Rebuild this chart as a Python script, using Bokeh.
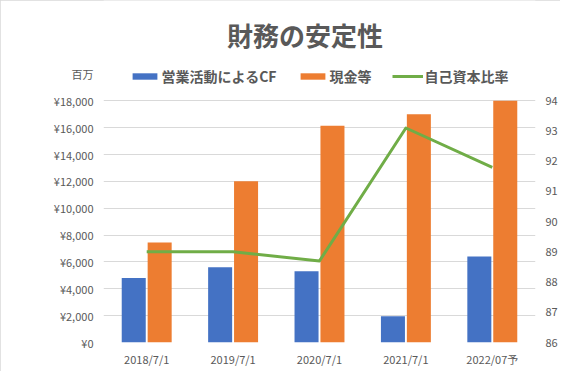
from bokeh.plotting import figure
from bokeh.models import (ColumnDataSource, Range1d, LinearAxis, FixedTicker,
                          Legend, LegendItem, Label, FactorRange)
from bokeh.transform import dodge
from bokeh.embed import file_html
from bokeh.resources import INLINE

# ---- data ----
categories = ["2018/7/1", "2019/7/1", "2020/7/1", "2021/7/1", "2022/07予"]
cf_values = [4800, 5600, 5300, 1950, 6400]          # 営業活動によるCF
cash_values = [7450, 12000, 16150, 17000, 18000]    # 現金等
equity_ratio = [89.0, 89.0, 88.7, 93.1, 91.8]       # 自己資本比率

y_ticks = [0, 2000, 4000, 6000, 8000, 10000, 12000, 14000, 16000, 18000]
y_tick_labels = ["¥0", "¥2,000", "¥4,000", "¥6,000", "¥8,000", "¥10,000",
                 "¥12,000", "¥14,000", "¥16,000", "¥18,000"]
ratio_ticks = [86, 87, 88, 89, 90, 91, 92, 93, 94]

title_text = "財務の安定性"
unit_text = "百万"
series_names = ["営業活動によるCF", "現金等", "自己資本比率"]

FONT = "Noto Sans CJK JP"
TXT = "#595959"

# ---- layout constants (pixels) ----
W, H = 560, 371
LEFT, RIGHT, BOTTOM = 103, 25, 29
FRAME_H = H - BOTTOM              # frame spans from the top of the canvas
AXIS_TOP_PX = 100.3               # where the top tick sits, from canvas top
UNIT_PX = 73.3                    # vertical position of the unit label
scale = FRAME_H / (FRAME_H - AXIS_TOP_PX)
y_max = y_ticks[-1] * scale
r_max = ratio_ticks[0] + (ratio_ticks[-1] - ratio_ticks[0]) * scale
unit_pos = y_max * (FRAME_H - UNIT_PX) / FRAME_H

source = ColumnDataSource(dict(cat=categories, cf=cf_values,
                               cash=cash_values, ratio=equity_ratio))

p = figure(x_range=FactorRange(factors=categories, range_padding=0),
           y_range=Range1d(0, y_max),
           width=W, height=H, output_backend="svg", toolbar_location=None,
           min_border_left=LEFT, min_border_right=RIGHT, min_border_top=0,
           min_border_bottom=BOTTOM)
p.outline_line_color = None
p.background_fill_color = "white"
p.border_fill_color = "white"
p.styles = {"outline": "1px solid #d9d9d9", "outline-offset": "-1px"}

r1 = p.vbar(x=dodge("cat", -0.15, range=p.x_range), top="cf", width=0.278,
            source=source, fill_color="#4472C4", line_color=None)
r2 = p.vbar(x=dodge("cat", 0.15, range=p.x_range), top="cash", width=0.278,
            source=source, fill_color="#ED7D31", line_color=None)

p.extra_y_ranges = {"ratio": Range1d(ratio_ticks[0], r_max)}
r3 = p.line(x="cat", y="ratio", source=source, y_range_name="ratio",
            line_color="#70AD47", line_width=3, line_join="round")

# axes (the left axis also carries the unit label "百万" above its top tick)
p.yaxis.ticker = FixedTicker(ticks=y_ticks + [unit_pos])
overrides = dict(zip(y_ticks, y_tick_labels))
overrides[unit_pos] = unit_text
p.yaxis.major_label_overrides = overrides
ax_r = LinearAxis(y_range_name="ratio", ticker=FixedTicker(ticks=ratio_ticks))
p.add_layout(ax_r, "right")

for ax in [p.xaxis[0], p.yaxis[0], ax_r]:
    ax.axis_line_color = None
    ax.major_tick_line_color = None
    ax.minor_tick_line_color = None
    ax.major_tick_out = 0
    ax.major_tick_in = 0
    ax.minor_tick_out = 0
    ax.minor_tick_in = 0
    ax.major_label_text_font = FONT
    ax.major_label_text_font_size = "11px"
    ax.major_label_text_color = TXT
p.yaxis[0].major_label_standoff = 10
ax_r.major_label_standoff = 10
p.xaxis[0].major_label_standoff = 8

p.xgrid.grid_line_color = None
p.ygrid.ticker = FixedTicker(ticks=y_ticks)
p.ygrid.grid_line_color = "#d9d9d9"
p.ygrid.grid_line_width = 1

# title (inside the tall frame, above the plotting area)
p.add_layout(Label(x=201.5, y=FRAME_H - 34.2, x_units="screen", y_units="screen",
                   text=title_text, text_align="center", text_baseline="middle",
                   text_font=FONT, text_font_size="26px", text_font_style="bold",
                   text_color=TXT))

# series legend
legend = Legend(items=[LegendItem(label=series_names[0], renderers=[r1]),
                       LegendItem(label=series_names[1], renderers=[r2]),
                       LegendItem(label=series_names[2], renderers=[r3])],
                location=(25.6, FRAME_H - 86), orientation="horizontal",
                glyph_width=31, glyph_height=8, label_standoff=2, spacing=20,
                padding=0, margin=0, border_line_color=None,
                background_fill_alpha=0,
                label_text_font=FONT, label_text_font_size="14px",
                label_text_font_style="bold", label_text_color=TXT)
p.add_layout(legend)

open("out.html", "w").write(file_html(p, INLINE))
